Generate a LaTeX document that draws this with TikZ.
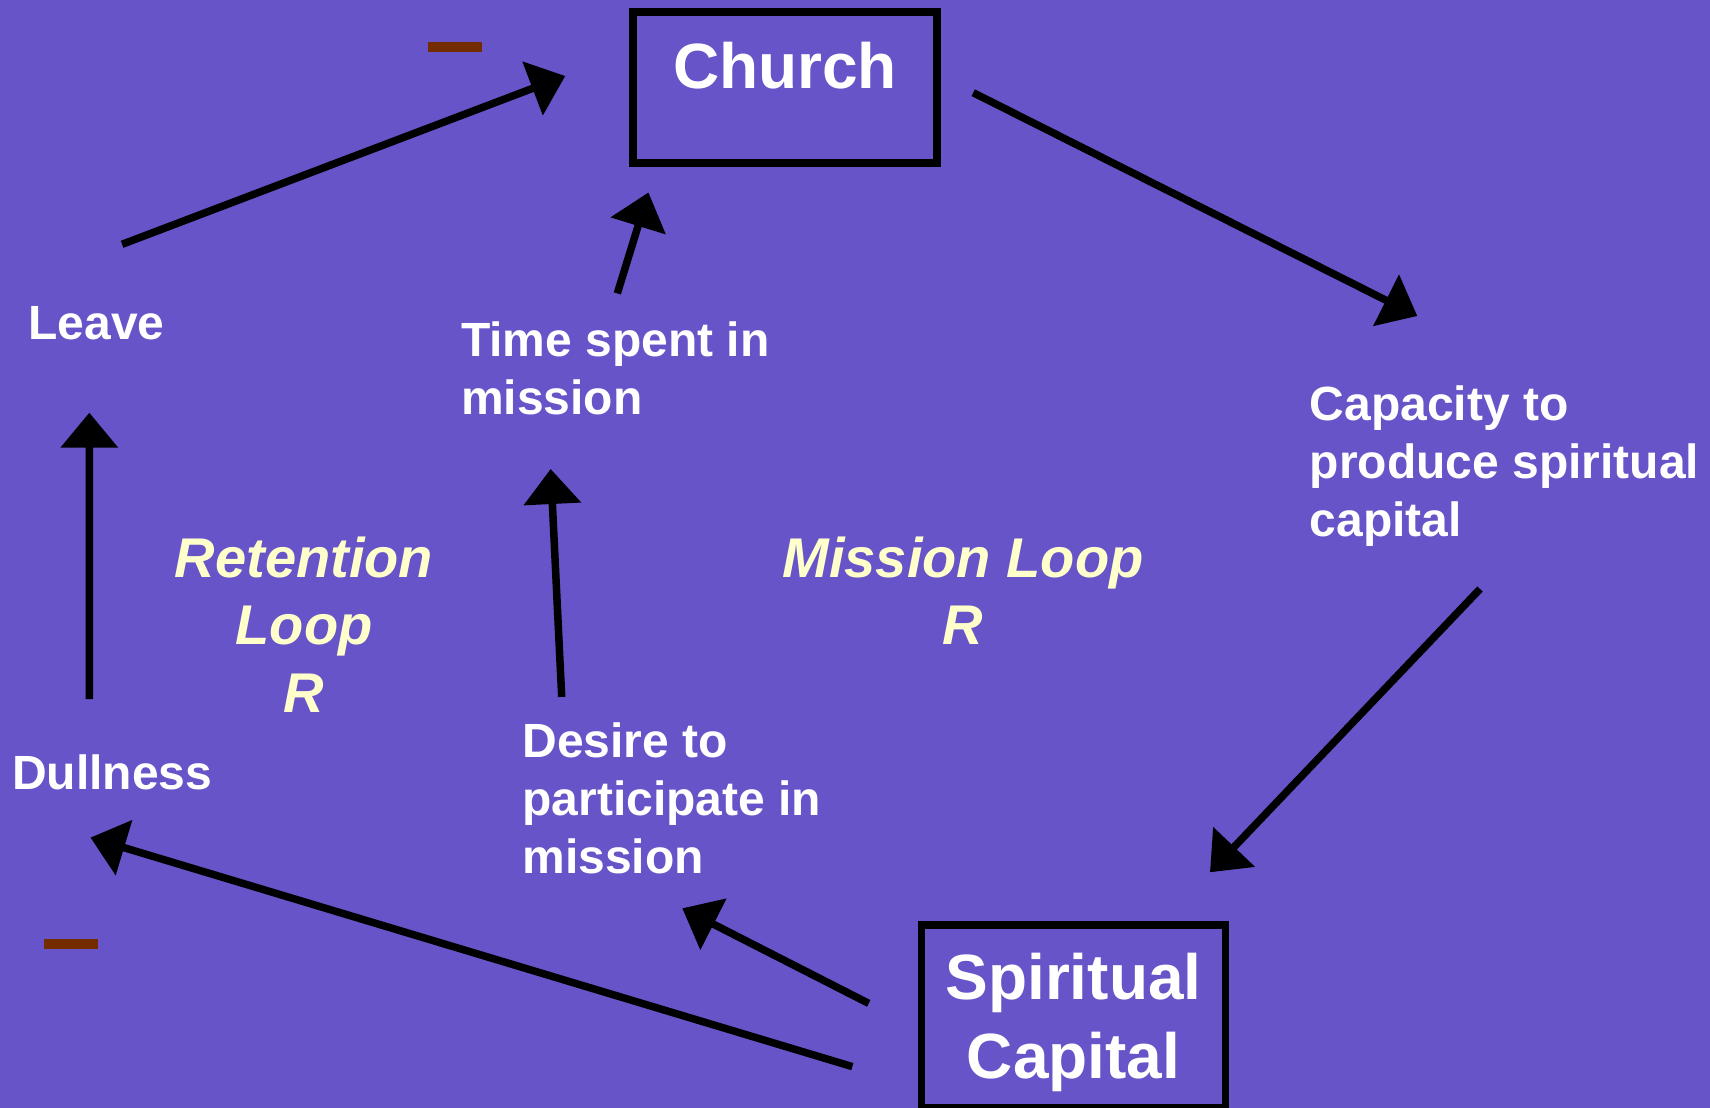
\documentclass[tikz,border=0pt]{standalone}
\usepackage{fontspec}
\setmainfont{Liberation Sans}
\usepackage{xcolor}
\definecolor{loopbg}{RGB}{102, 84, 200}
\definecolor{loopcream}{RGB}{255, 255, 204}
\definecolor{loopminus}{RGB}{115, 44, 0}
\usetikzlibrary{arrows.meta, calc}

\begin{document}
\begin{tikzpicture}[
    x=0.5pt, y=-0.5pt,
    stockbox/.style={rectangle, draw=black, line width=3.75pt, inner sep=0pt, minimum width=152pt, text=white, align=center, font=\fontsize{32}{39.2}\selectfont\bfseries},
    quantity/.style={anchor=north west, inner sep=0pt, text=white, align=left, font=\fontsize{24}{29}\selectfont\bfseries},
    looplabel/.style={anchor=north, inner sep=0pt, text=loopcream, align=center, font=\fontsize{28}{33.75}\selectfont\bfseries\itshape},
    arrow/.style={line width=3.75pt, -{Triangle[length=17.5pt, width=28pt]}, black},
    polarity/.style={fill=loopminus}
]

% Background
\path[fill=loopbg, use as bounding box] (0,0) rectangle (1710,1108);

% Nodes
\node (church) [stockbox, minimum height=75.5pt, text depth=22.5pt] at (785,87.5) {Church};
\node (spirit) [stockbox, minimum height=91.5pt] at (1073.5,1016.5) {\rule{0pt}{29.3pt}Spiritual\\Capital};
\node (leave) [quantity] at (28,305.6) {Leave};
\node (time) [quantity] at (460.7,321.6) {Time spent in\\mission};
\node (capacity) [quantity] at (1309.5,385) {Capacity to\\produce spiritual\\capital};
\node (dull) [quantity] at (11.7,753.9) {Dullness};
\node (desire) [quantity] at (522.2,722.3) {Desire to\\participate in\\mission};
\node (retention) [looplabel] at (304,536.5) {Retention\\Loop\\R};
\node (mission) [looplabel] at (963,536.5) {Mission Loop\\R};

% Polarity marks
\fill[polarity] (428,41.7) rectangle (481.5,51.7);
\fill[polarity] (44,939) rectangle (97.7,949);

% Arrows
\draw [arrow] ($(leave.north west)+(94.1,-61.3)$) -- ($(church.west)+(-64,-11.5)$);
\draw [arrow] ($(church.east)+(32.5,5.2)$) -- ($(capacity.north west)+(107.8,-69)$);
\draw [arrow] ($(capacity.north west)+(170.5,204)$) -- ($(spirit.north)+(136.5,-49)$);
\draw [arrow] ($(spirit.west)+(-65.4,50.1)$) -- ($(dull.north west)+(78.8,83.7)$);
\draw [arrow] ($(spirit.west)+(-49,-13.1)$) -- ($(desire.north west)+(160.1,186)$);
\draw [arrow] ($(dull.north west)+(77.7,-54.9)$) -- ($(leave.north west)+(61.3,107.1)$);
\draw [arrow] ($(desire.north west)+(39.5,-25.4)$) -- ($(time.north west)+(90,147.4)$);
\draw [arrow] ($(time.north west)+(156.6,-28.2)$) -- ($(church.south west)+(19.2,25.7)$);

\end{tikzpicture}
\end{document}
